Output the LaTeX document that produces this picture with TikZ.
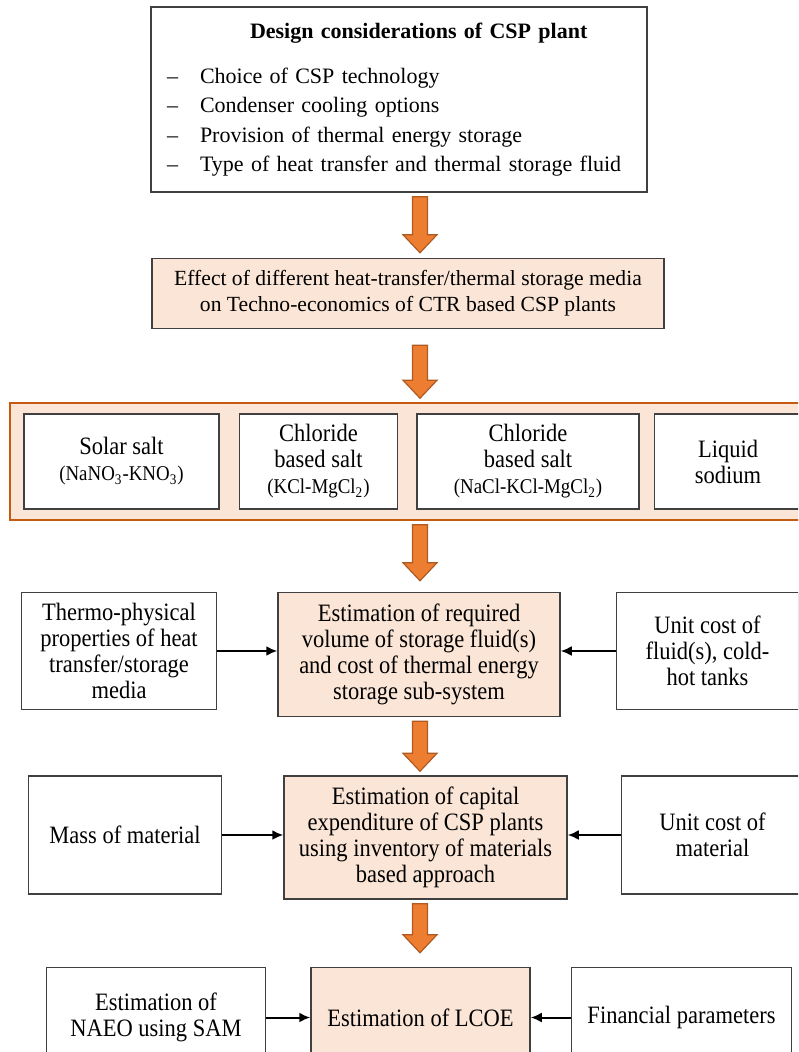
\documentclass[tikz,border=0pt]{standalone}
\usepackage{fontspec}
\setmainfont{Liberation Serif}
\newfontfamily\narrowserif{Liberation Serif}[FakeStretch=0.9]
\usetikzlibrary{positioning,calc,arrows.meta}

\definecolor{peach}{RGB}{251,229,214}
\definecolor{boxgray}{RGB}{64,64,64}
\definecolor{rustline}{RGB}{197,90,17}
\definecolor{arroworange}{RGB}{237,125,49}
\definecolor{arrowedge}{RGB}{174,90,33}
\newcommand{\formula}[1]{{\fontsize{10.5}{12.5}\selectfont #1}}
\tikzstyle{considerstyle} = [rectangle,
minimum width=248pt,
minimum height=92.5pt,
text width=248pt,
inner sep=0pt,
align=left,
draw=boxgray,
line width=0.75pt,
fill=white,
font=\fontsize{11}{14.7}\selectfont]
\tikzstyle{effectstyle} = [rectangle,
minimum width=256pt,
minimum height=35pt,
inner sep=0pt,
align=center,
draw=boxgray,
line width=0.75pt,
fill=peach,
font=\fontsize{10.8}{13}\selectfont]
\tikzstyle{mediastyle} = [rectangle,
minimum width=401pt,
minimum height=58.5pt,
inner sep=0pt,
draw=rustline,
line width=0.75pt,
fill=peach]
\tikzstyle{fluidstyle} = [rectangle,
minimum height=47.5pt,
inner sep=0pt,
align=center,
draw=boxgray,
line width=0.75pt,
fill=white,
font=\narrowserif\fontsize{12.5}{13}\selectfont]
\tikzstyle{stepstyle} = [rectangle,
inner sep=0pt,
align=center,
draw=boxgray,
line width=0.75pt,
fill=peach,
font=\narrowserif\fontsize{12.5}{13}\selectfont]
\tikzstyle{inputstyle} = [rectangle,
inner sep=0pt,
align=center,
draw=boxgray,
line width=0.75pt,
fill=white,
font=\narrowserif\fontsize{12.5}{13}\selectfont]
\tikzstyle{blockarrow} = [fill=arroworange, draw=arrowedge, line width=0.6pt, line join=miter]
\tikzstyle{arrow} = [line width=1pt,->,>={Latex[length=5.5pt,width=5pt]}]

% orange block arrow on the spine: from, to, start gap, end gap
\newcommand{\flowarrow}[4]{%
\draw [blockarrow] let \p1=(spine), \p2=(#1.south), \p3=(#2.north) in
(\x1-3.75pt,\y2-#3) -- (\x1+3.75pt,\y2-#3) -- (\x1+3.75pt,\y3+#4+9pt)
-- (\x1+8.5pt,\y3+#4+9pt) -- (\x1,\y3+#4) -- (\x1-8.5pt,\y3+#4+9pt)
-- (\x1-3.75pt,\y3+#4+9pt) -- cycle;}

\begin{document}
\begin{tikzpicture}
\useasboundingbox (0,0) rectangle (399pt,-526pt);
\clip (0,0) rectangle (399pt,-526pt);
\coordinate (spine) at (210pt,0);

\node (design) [considerstyle] at (199.5pt,-49.75pt) {\hspace*{49.5pt}\textbf{Design considerations of CSP plant}\\[7.8pt]
\hspace*{8pt}\makebox[16.5pt][l]{--}Choice of CSP technology\\
\hspace*{8pt}\makebox[16.5pt][l]{--}Condenser cooling options\\
\hspace*{8pt}\makebox[16.5pt][l]{--}Provision of thermal energy storage\\
\hspace*{8pt}\makebox[16.5pt][l]{--}Type of heat transfer and thermal storage fluid};

\node (effect) [effectstyle, below=32.5pt of design, xshift=4.5pt] {Effect of different heat-transfer/thermal storage media\\ on Techno-economics of CTR based CSP plants};

\node (media) [mediastyle, below=36.5pt of effect, xshift=1.5pt] {};
\node (solar) [fluidstyle, minimum width=97.5pt, right=7pt of media.west] {Solar salt\\ \formula{(NaNO\textsubscript{3}-KNO\textsubscript{3})}};
\node (kcl) [fluidstyle, minimum width=79pt, right=9.5pt of solar] {Chloride\\ based salt\\ \formula{(KCl-MgCl\textsubscript{2})}};
\node (nacl) [fluidstyle, minimum width=111pt, right=9pt of kcl] {Chloride\\ based salt\\ \formula{(NaCl-KCl-MgCl\textsubscript{2})}};
\node (sodium) [fluidstyle, minimum width=73.5pt, right=7pt of nacl] {Liquid\\ sodium};

\node (tes) [stepstyle, minimum width=141pt, minimum height=62pt, below=35.5pt of media, xshift=4pt] {Estimation of required\\ volume of storage fluid(s)\\ and cost of thermal energy\\ storage sub-system};
\node (thermo) [inputstyle, minimum width=97.5pt, minimum height=58.5pt, left=30pt of tes.north west, anchor=north east] {Thermo-physical\\ properties of heat\\ transfer/storage\\ media};
\node (unitfluid) [inputstyle, minimum width=91pt, minimum height=58.5pt, right=27.5pt of tes.north east, anchor=north west] {Unit cost of\\ fluid(s), cold-\\ hot tanks};

\node (capex) [stepstyle, minimum width=141.5pt, minimum height=61.5pt, below=29pt of tes, xshift=3.25pt] {Estimation of capital\\ expenditure of CSP plants\\ using inventory of materials\\ based approach};
\node (mass) [inputstyle, minimum width=96.5pt, minimum height=59pt, left=30.5pt of capex.north west, anchor=north east] {Mass of material};
\node (unitmat) [inputstyle, minimum width=91pt, minimum height=59pt, right=26.5pt of capex.north east, anchor=north west] {Unit cost of\\ material};

\node (lcoe) [stepstyle, minimum width=109.5pt, minimum height=50pt, below=33.5pt of capex, xshift=-2.5pt] {Estimation of LCOE};
\node (naeo) [inputstyle, minimum width=109.5pt, minimum height=50pt, left=22pt of lcoe.north west, anchor=north east] {Estimation of\\ NAEO using SAM};
\node (financial) [inputstyle, minimum width=110pt, minimum height=50pt, right=20pt of lcoe.north east, anchor=north west] {Financial parameters};

\flowarrow{design}{effect}{2pt}{2.5pt}
\flowarrow{effect}{media}{8pt}{2pt}
\flowarrow{media}{tes}{2pt}{5.5pt}
\flowarrow{tes}{capex}{2pt}{2pt}
\flowarrow{capex}{lcoe}{2pt}{7pt}

\draw [arrow] (thermo) -- (thermo -| tes.west);
\draw [arrow] (unitfluid) -- (unitfluid -| tes.east);
\draw [arrow] (mass) -- (mass -| capex.west);
\draw [arrow] (unitmat) -- (unitmat -| capex.east);
\draw [arrow] (naeo) -- (naeo -| lcoe.west);
\draw [arrow] (financial) -- (financial -| lcoe.east);
\end{tikzpicture}
\end{document}
